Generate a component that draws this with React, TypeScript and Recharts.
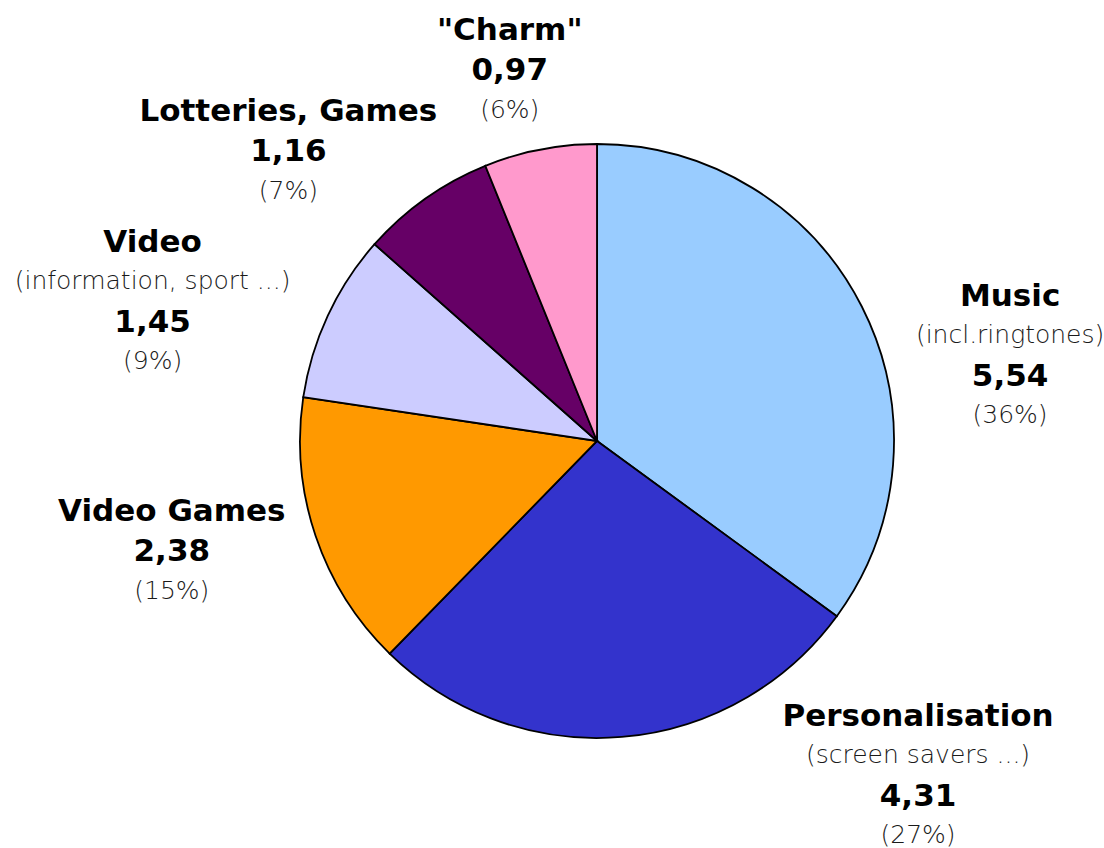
import { PieChart, Pie, Cell } from 'recharts';

const categories = ['Music', 'Personalisation', 'Video Games', 'Video', 'Lotteries, Games', '"Charm"'];
const subtitles = ['(incl.ringtones)', '(screen savers ...)', '', '(information, sport ...)', '', ''];
const values = [5.54, 4.31, 2.38, 1.45, 1.16, 0.97];
const percents = ['36%', '27%', '15%', '9%', '7%', '6%'];
const colors = ['#99CCFF', '#3333CC', '#FF9900', '#CCCCFF', '#660066', '#FF99CC'];

// where each label block sits, in polar terms around the pie centre
const labelAngles = [11.8, -46.1, -165.6, 162.5, 136.7, 103.2];
const labelRadii = [422, 463, 439, 466, 424, 382];

const data = categories.map((name, i) => ({
  name,
  sub: subtitles[i],
  value: values[i],
  pct: percents[i],
}));

const RAD = Math.PI / 180;
const LINE = 40;

function renderLabel(props: any) {
  const { cx, cy, index } = props;
  const d = data[index];
  const a = labelAngles[index] * RAD;
  const x = cx + labelRadii[index] * Math.cos(a);
  const y = cy - labelRadii[index] * Math.sin(a);
  const lines: { text: string; bold: boolean }[] = [{ text: d.name, bold: true }];
  if (d.sub) lines.push({ text: d.sub, bold: false });
  lines.push({ text: d.value.toFixed(2).replace('.', ','), bold: true });
  lines.push({ text: `(${d.pct})`, bold: false });
  const top = y - ((lines.length - 1) * LINE) / 2;
  return (
    <g key={`lbl-${index}`}>
      {lines.map((l, j) => (
        <text
          key={j}
          x={x}
          y={top + j * LINE}
          textAnchor="middle"
          dominantBaseline="central"
          fontFamily="'DejaVu Sans', Verdana, sans-serif"
          fontWeight={l.bold ? 700 : 200}
          fontSize={l.bold ? 31 : 25}
          fill={l.bold ? '#000' : '#1a1a1a'}
        >
          {l.text}
        </text>
      ))}
    </g>
  );
}

export default function App() {
  return (
    <div style={{ position: 'absolute', left: 0, top: 0, background: '#fff' }}>
      <PieChart width={1104} height={848} margin={{ top: 0, right: 0, bottom: 0, left: 0 }}>
        <Pie
          data={data}
          dataKey="value"
          nameKey="name"
          cx={597}
          cy={441}
          outerRadius={297}
          startAngle={90}
          endAngle={-270}
          stroke="#000"
          strokeWidth={1.8}
          label={renderLabel}
          labelLine={false}
          isAnimationActive={false}
        >
          {data.map((d, i) => (
            <Cell key={d.name} fill={colors[i]} />
          ))}
        </Pie>
      </PieChart>
    </div>
  );
}
